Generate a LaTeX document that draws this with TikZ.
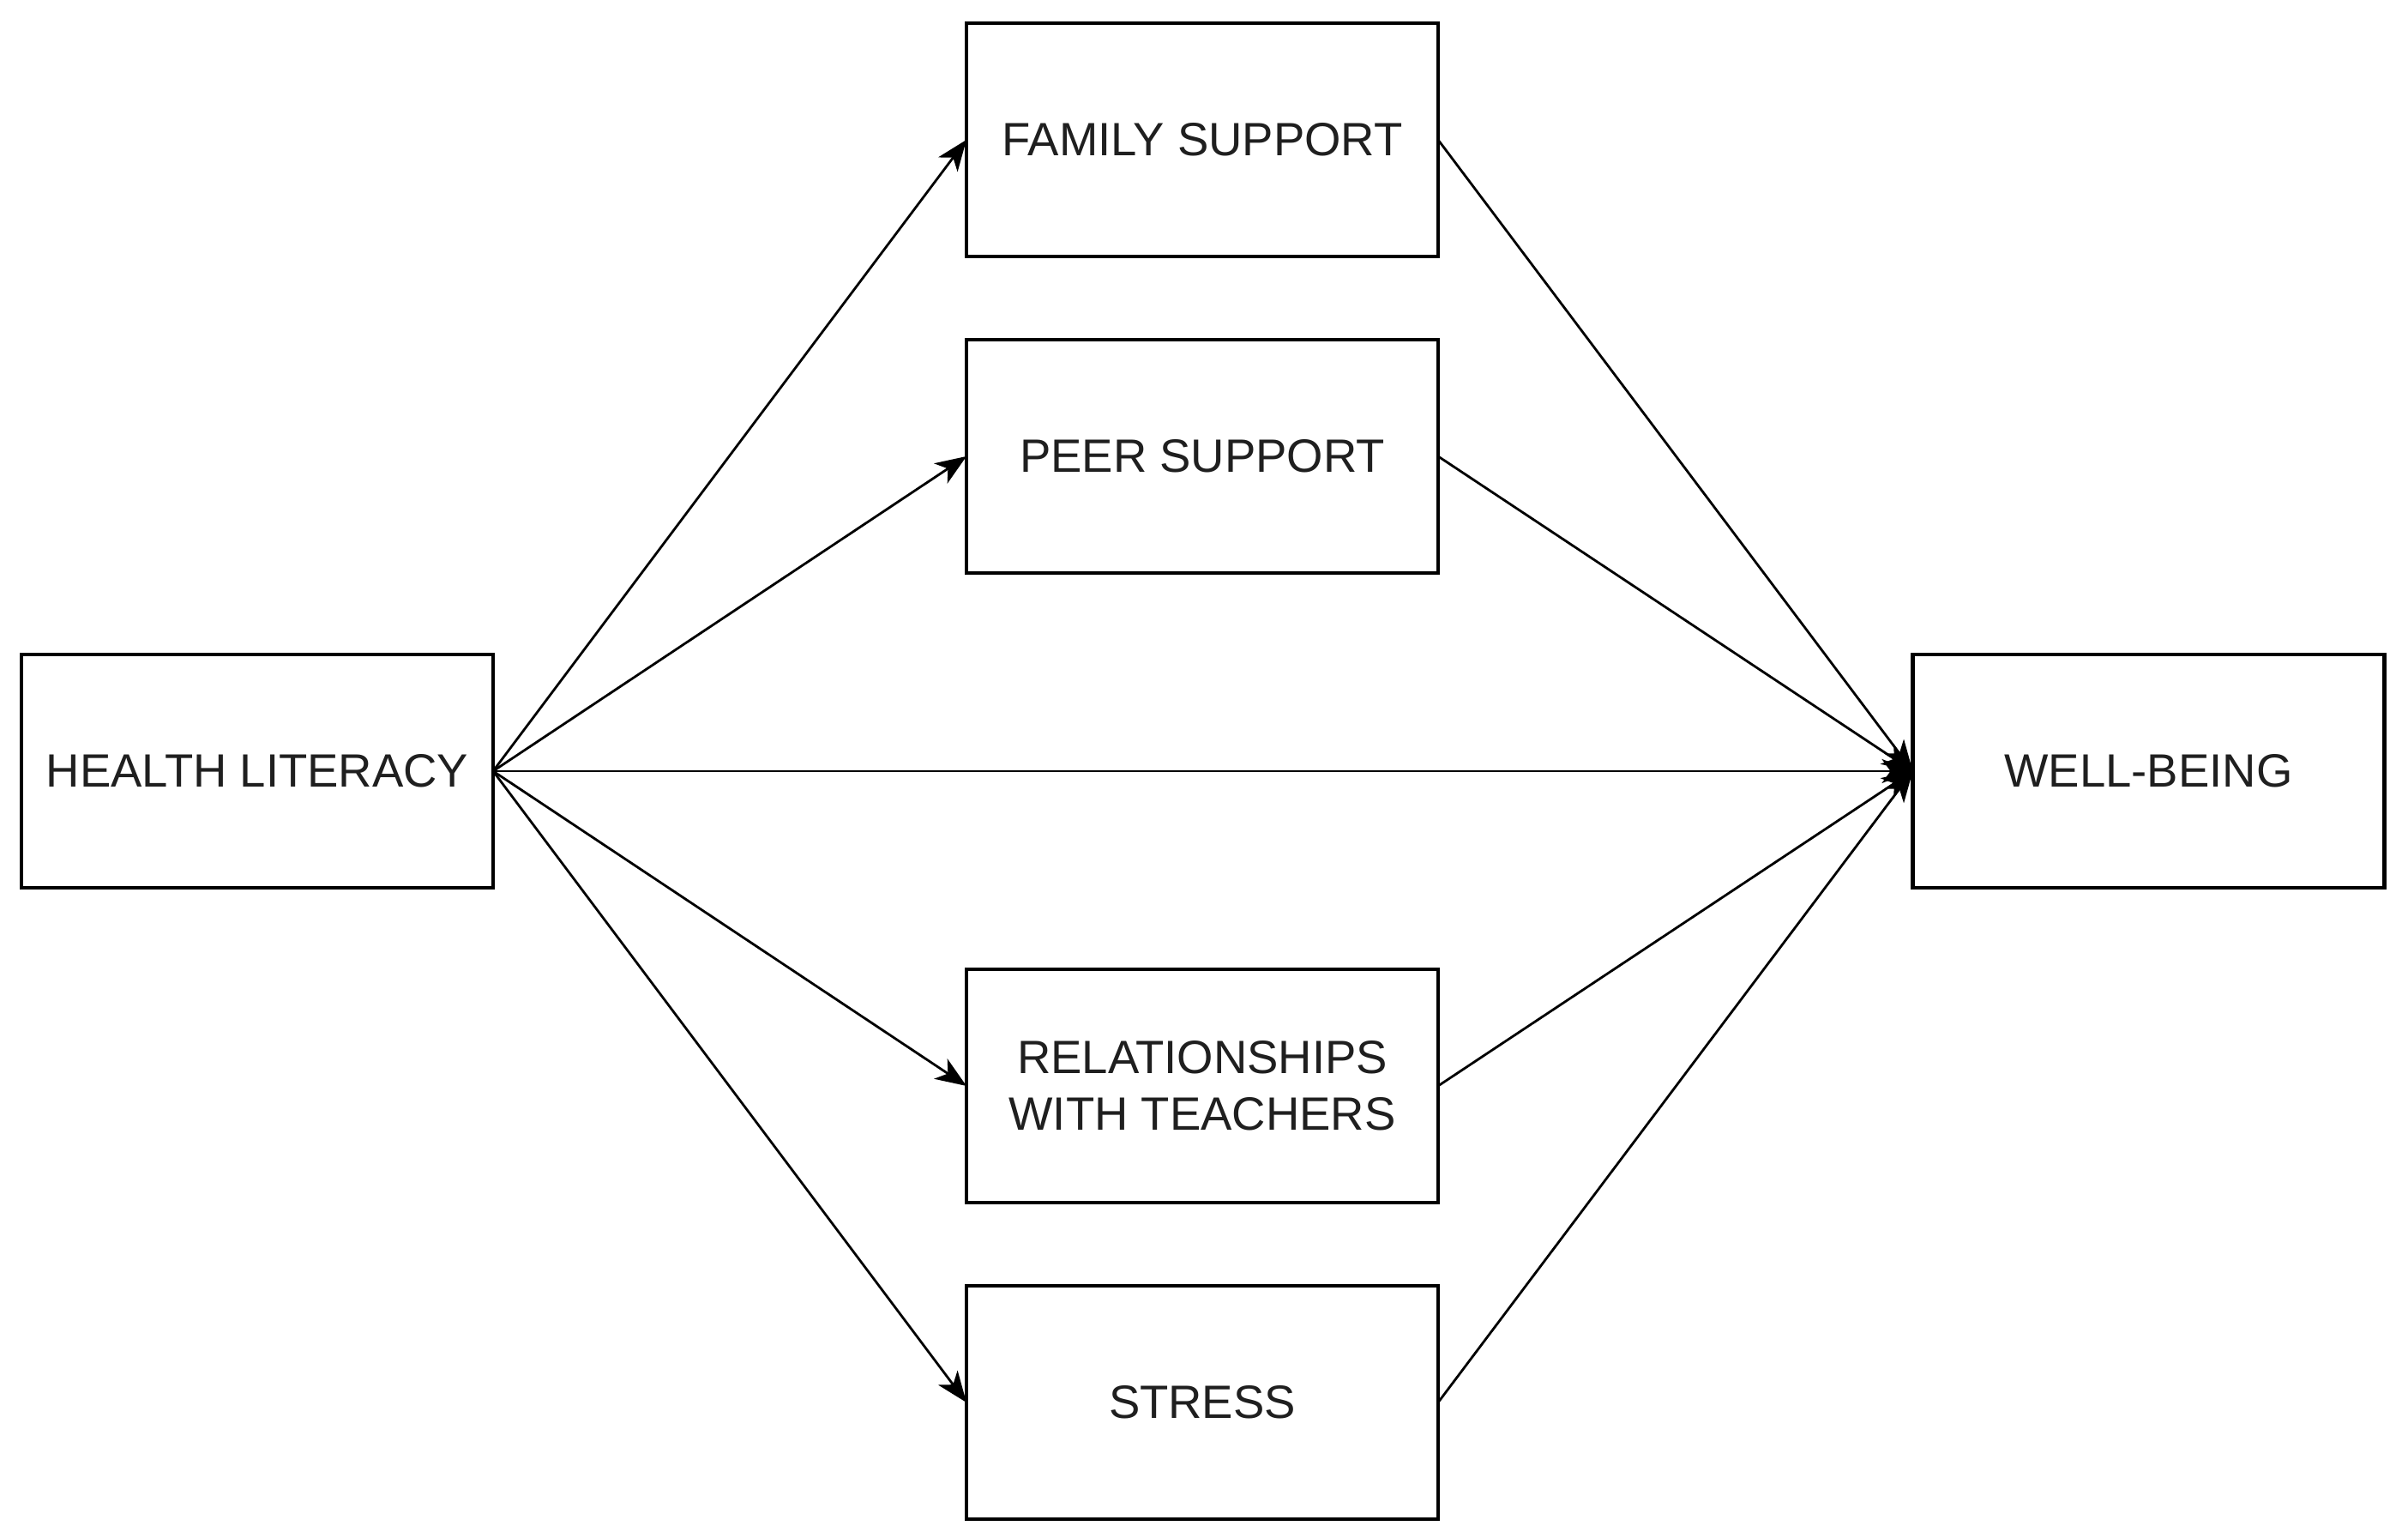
\documentclass[tikz,border=0pt]{standalone}
\usepackage{fontspec}
\setmainfont{Liberation Sans}
\usetikzlibrary{arrows.meta}
\tikzset{
  varbox/.style={draw=black, line width=1.3pt, fill=white, minimum width=5.5cm, minimum height=2.72cm,
    inner sep=0pt, outer sep=0pt, align=center, font=\fontsize{15.5}{18.8}\selectfont, text=black!88},
  conn/.style={draw=black, line width=0.8pt, -{Stealth[length=0.36cm, width=0.28cm, inset=0.1cm]}}
}
\begin{document}
\begin{tikzpicture}
\useasboundingbox (0,0) rectangle (28.08,17.93);
\node[varbox] (hl) at (3.00,8.94) {HEALTH LITERACY};
\node[varbox] (fam) at (14.02,16.30) {FAMILY SUPPORT};
\node[varbox] (peer) at (14.02,12.61) {PEER SUPPORT};
\node[varbox] (rel) at (14.02,5.27) {RELATIONSHIPS\\WITH TEACHERS};
\node[varbox] (str) at (14.02,1.58) {STRESS};
\node[varbox] (wb) at (25.055,8.94) {WELL-BEING};
\foreach \t in {fam,peer,rel,str}{
  \draw[conn] (hl.east) -- (\t.west);
  \draw[conn] (\t.east) -- (wb.west);
}
\draw[conn] (hl.east) -- (wb.west);
\end{tikzpicture}
\end{document}
